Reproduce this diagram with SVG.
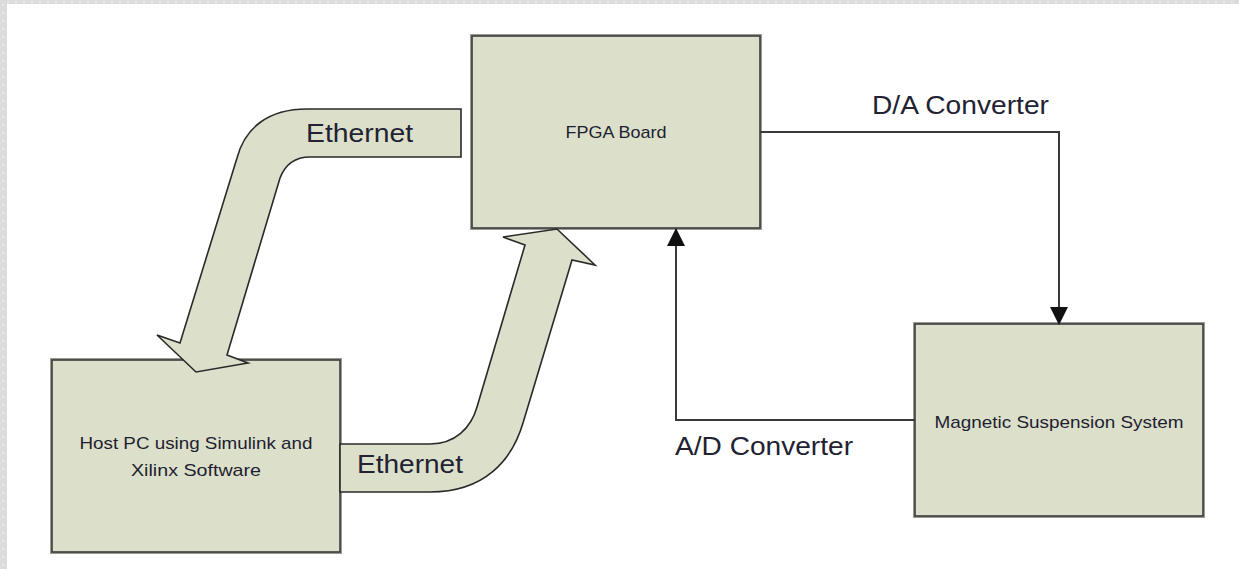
<svg xmlns="http://www.w3.org/2000/svg" width="1239" height="569" viewBox="0 0 1239 569">
  <style>
    .frame { fill: #dcdcdc; }
    .frame-dots { stroke: #ececec; stroke-width: 1.5; stroke-dasharray: 2 6; fill: none; }
    .box-halo { fill: none; stroke: #9a9c94; stroke-width: 4; }
    .box { fill: #dce0cb; stroke: #3c3c3c; stroke-width: 1.6; }
    .box-text { font-family: "Liberation Sans", Arial, sans-serif; font-size: 17px; fill: #1e1e30; text-anchor: middle; }
    .label { font-family: "Liberation Sans", Arial, sans-serif; font-size: 25px; fill: #222233; }
    .wire { fill: none; stroke: #3a3a3a; stroke-width: 2; }
    .bent { fill: #dce0cb; stroke: #2a2a2a; stroke-width: 1.6; stroke-linejoin: miter; }
  </style>
  <defs>
    <marker id="tri" markerUnits="userSpaceOnUse" markerWidth="18" markerHeight="18" refX="17" refY="9" orient="auto">
      <path d="M0,0 L18,9 L0,18 Z" fill="#111"/>
    </marker>
  </defs>

  <!-- page background and edge strip -->
  <rect x="0" y="0" width="1239" height="569" fill="#ffffff"/>
  <rect class="frame" x="0" y="0" width="1239" height="4"/>
  <rect class="frame" x="0" y="0" width="7" height="569"/>
  <line class="frame-dots" x1="3" y1="4" x2="3" y2="569"/>
  <line class="frame-dots" x1="7" y1="2" x2="1239" y2="2"/>

  <g id="fpga-board">
    <rect class="box-halo" x="472" y="36" width="288" height="192"/>
    <rect class="box" x="472" y="36" width="288" height="192"/>
    <text class="box-text" x="616" y="138" textLength="101" lengthAdjust="spacingAndGlyphs">FPGA Board</text>
  </g>

  <g id="host-pc">
    <rect class="box-halo" x="52" y="360" width="288" height="192"/>
    <rect class="box" x="52" y="360" width="288" height="192"/>
    <text class="box-text" x="196" y="449" textLength="233" lengthAdjust="spacingAndGlyphs">Host PC using Simulink and</text>
    <text class="box-text" x="196" y="476" textLength="130" lengthAdjust="spacingAndGlyphs">Xilinx Software</text>
  </g>

  <g id="magnetic-suspension">
    <rect class="box-halo" x="915" y="324" width="288" height="192"/>
    <rect class="box" x="915" y="324" width="288" height="192"/>
    <text class="box-text" x="1059" y="428" textLength="249" lengthAdjust="spacingAndGlyphs">Magnetic Suspension System</text>
  </g>

  <g id="connectors">
    <!-- Ethernet: FPGA board down to host PC -->
    <path class="bent" d="M461,109 L307,109 C268,109 245,128 237,158 L180,343 L157,335 L196,372 L248,363 L227,355 L280,178 C285,165 295,157 310,157 L461,157 Z"/>
    <text class="label" x="306" y="142" textLength="107" lengthAdjust="spacingAndGlyphs">Ethernet</text>

    <!-- Ethernet: host PC up to FPGA board -->
    <path class="bent" d="M340,444 L430,444 C455,444 471,428 477,407 L525,245 L503,237 L557,229 L595,265 L572,260 L523,423 C512,460 485,492 430,492 L340,492 Z"/>
    <text class="label" x="357" y="473" textLength="106" lengthAdjust="spacingAndGlyphs">Ethernet</text>

    <!-- D/A path: FPGA board to suspension -->
    <path class="wire" d="M760,132 H1059 V324" marker-end="url(#tri)"/>
    <text class="label" x="872" y="114" textLength="177" lengthAdjust="spacingAndGlyphs">D/A Converter</text>

    <!-- A/D path: suspension back to FPGA board -->
    <path class="wire" d="M915,420 H676 V229" marker-end="url(#tri)"/>
    <text class="label" x="675" y="455" textLength="178" lengthAdjust="spacingAndGlyphs">A/D Converter</text>
  </g>
</svg>
